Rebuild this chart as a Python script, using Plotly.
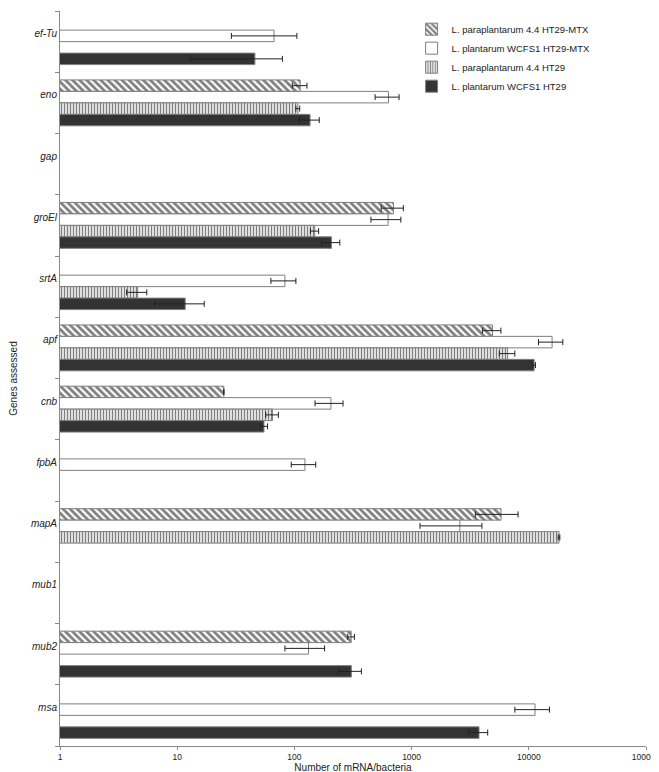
"""
mRNA copies per bacterium for each gene, four strain/cell combinations
"""

import plotly.graph_objects as go

genes = ['ef-Tu', 'eno', 'gap', 'groEl', 'srtA', 'apf', 'cnb',
         'fpbA', 'mapA', 'mub1', 'mub2', 'msa']

para_mtx = [None, 112, None, 700, None, 4900, 25, None, 5800, None, 305, None]
para_mtx_err = [None, 16, None, 150, None, 880, 0, None, 2300, None, 20, None]

wcfs_mtx = [67, 635, None, 630, 83, 15800, 205, 123, 2580, None, 132, 11300]
wcfs_mtx_err = [38, 147, None, 180, 20, 3700, 55, 29, 1400, None, 49, 3700]

para_ht29 = [None, 107, None, 149, 4.6, 6600, 65, None, 18100, None, None, None]
para_ht29_err = [None, 4, None, 12, 0.9, 1000, 8, None, 300, None, None, None]

wcfs_ht29 = [46, 136, None, 207, 11.7, 11100, 55, None, None, None, 306, 3760]
wcfs_ht29_err = [33, 27, None, 37, 5.3, 300, 4, None, None, None, 67, 700]

x_ticks = [1, 10, 100, 1000, 10000, 100000]

FONT = 'Liberation Sans, Arial, sans-serif'
OUTLINE = '#7f7f7f'


def error_bars(values):
    return dict(type='data', array=values, visible=True,
                color='#222222', thickness=1, width=3)


fig = go.Figure()

fig.add_trace(go.Bar(
    name='L. paraplantarum 4.4 HT29-MTX',
    y=genes, x=para_mtx, orientation='h',
    marker=dict(color='white', line=dict(color=OUTLINE, width=1),
                pattern=dict(shape='\\', fgcolor='black', bgcolor='white',
                             size=5, solidity=0.55)),
    error_x=error_bars(para_mtx_err)
))
fig.add_trace(go.Bar(
    name='L. plantarum WCFS1 HT29-MTX',
    y=genes, x=wcfs_mtx, orientation='h',
    marker=dict(color='white', line=dict(color=OUTLINE, width=1)),
    error_x=error_bars(wcfs_mtx_err)
))
fig.add_trace(go.Bar(
    name='L. paraplantarum 4.4 HT29',
    y=genes, x=para_ht29, orientation='h',
    marker=dict(color='white', line=dict(color=OUTLINE, width=1),
                pattern=dict(shape='|', fgcolor='black', bgcolor='white',
                             size=3, solidity=0.5)),
    error_x=error_bars(para_ht29_err)
))
fig.add_trace(go.Bar(
    name='L. plantarum WCFS1 HT29',
    y=genes, x=wcfs_ht29, orientation='h',
    marker=dict(color='#333333', line=dict(color=OUTLINE, width=1)),
    error_x=error_bars(wcfs_ht29_err)
))

fig.update_layout(
    width=659, height=772,
    margin=dict(l=52, r=21, t=3, b=34),
    paper_bgcolor='white', plot_bgcolor='white',
    font=dict(family=FONT, size=9, color='#222222'),
    barmode='group', bargap=0.25, bargroupgap=0,
    showlegend=True,
    legend=dict(x=0.60, y=0.995, xanchor='left', yanchor='top',
                font=dict(size=9.5), bgcolor='rgba(0,0,0,0)',
                traceorder='normal', itemwidth=30, tracegroupgap=0)
)

fig.update_xaxes(
    type='log', range=[0, 5],
    tickvals=x_ticks, ticktext=[str(v) for v in x_ticks],
    ticks='outside', ticklen=3, tickcolor='#888888',
    showline=True, linecolor='#888888', linewidth=1,
    showgrid=False, zeroline=False,
    tickfont=dict(size=8.5),
    title=dict(text='Number of mRNA/bacteria', font=dict(size=10), standoff=0)
)
fig.update_yaxes(
    type='category', autorange='reversed',
    tickvals=genes, ticktext=[f'<i>{g}</i>' for g in genes],
    tickson='boundaries', ticks='outside', ticklen=4, tickcolor='#888888',
    ticklabelshift=8,
    showline=True, linecolor='#888888', linewidth=1,
    showgrid=False, zeroline=False,
    tickfont=dict(size=10),
    title=dict(text='Genes assessed', font=dict(size=10), standoff=12)
)

fig.write_html("out.html")
